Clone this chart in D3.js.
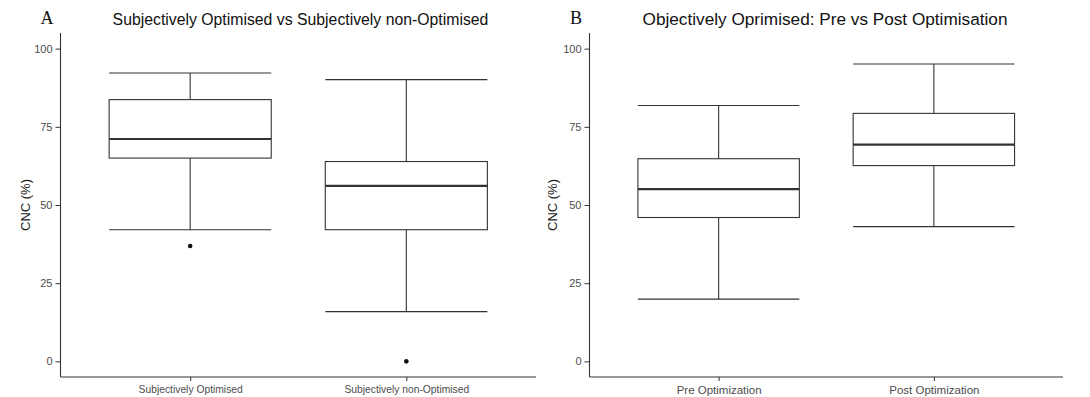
<!DOCTYPE html>
<html><head><meta charset="utf-8">
<script src="https://cdn.jsdelivr.net/npm/d3@7"></script>
<style>body{margin:0;background:#fff;} svg{display:block;}</style>
</head><body>
<svg id="chart" width="1090" height="397"></svg>
<script>
// Panel A
const catsA = ["Subjectively Optimised", "Subjectively non-Optimised"];
const lowA = [42.1, 15.9];
const q1A = [65.0, 42.1];
const medA = [71.1, 56.1];
const q3A = [83.7, 63.9];
const highA = [92.2, 90.1];
const outA = [[36.9], [0]];
// Panel B
const catsB = ["Pre Optimization", "Post Optimization"];
const lowB = [19.9, 43.1];
const q1B = [46.0, 62.6];
const medB = [55.1, 69.3];
const q3B = [64.8, 79.3];
const highB = [81.8, 95.1];
const outB = [[], []];
const yTicks = [0, 25, 50, 75, 100];

const svg = d3.select("#chart");
const stroke = "#333333";

function panel(opt) {
  const {x0, x1, y0, y1, cats, low, q1, med, q3, high, outs, title, titleSize, letter, letterX, titleX, xFont, yTitleX} = opt;
  const g = svg.append("g");
  // emulate ggplot discrete expansion: 0.6 units each side
  const unit = (x1 - x0) / (cats.length - 1 + 1.2);
  const cx = i => x0 + unit * (0.6 + i);
  const xPos = d3.scalePoint().domain(cats).range([cx(0), cx(cats.length - 1)]);
  const y = d3.scaleLinear().domain([-5, 105]).range([y1, y0]);
  const bw = unit * 0.75;

  const yAxis = d3.axisLeft(y).tickValues(yTicks).tickSize(5).tickPadding(3);
  const ya = g.append("g").attr("transform", `translate(${x0},0)`).call(yAxis);
  ya.select(".domain").remove();
  ya.selectAll(".tick line").attr("stroke", stroke).attr("stroke-width", 1);
  ya.selectAll(".tick text").attr("fill", "#4d4d4d").style("font-family", "Liberation Sans, Arial, sans-serif").style("font-size", "11px");

  const xAxis = d3.axisBottom(xPos).tickSize(4).tickPadding(5);
  const xa = g.append("g").attr("transform", `translate(0,${y1})`).call(xAxis);
  xa.select(".domain").remove();
  xa.selectAll(".tick line").attr("stroke", stroke).attr("stroke-width", 1);
  xa.selectAll(".tick text").attr("fill", "#4d4d4d").style("font-family", "Liberation Sans, Arial, sans-serif").style("font-size", xFont + "px");

  g.append("line").attr("x1", x0).attr("x2", x0).attr("y1", y0).attr("y2", y1).attr("stroke", stroke).attr("stroke-width", 1.1);
  g.append("line").attr("x1", x0).attr("x2", x1).attr("y1", y1).attr("y2", y1).attr("stroke", stroke).attr("stroke-width", 1.1);

  cats.forEach((c, i) => {
    const c0 = xPos(c);
    const bg = g.append("g").attr("stroke", stroke).attr("fill", "none").attr("stroke-width", 1.1);
    bg.append("line").attr("x1", c0).attr("x2", c0).attr("y1", y(high[i])).attr("y2", y(q3[i]));
    bg.append("line").attr("x1", c0).attr("x2", c0).attr("y1", y(q1[i])).attr("y2", y(low[i]));
    bg.append("line").attr("x1", c0 - bw/2).attr("x2", c0 + bw/2).attr("y1", y(high[i])).attr("y2", y(high[i]));
    bg.append("line").attr("x1", c0 - bw/2).attr("x2", c0 + bw/2).attr("y1", y(low[i])).attr("y2", y(low[i]));
    bg.append("rect").attr("x", c0 - bw/2).attr("width", bw).attr("y", y(q3[i])).attr("height", y(q1[i]) - y(q3[i])).attr("fill", "#fff");
    bg.append("line").attr("x1", c0 - bw/2).attr("x2", c0 + bw/2).attr("y1", y(med[i])).attr("y2", y(med[i])).attr("stroke-width", 2.2);
    outs[i].forEach(v => {
      g.append("circle").attr("cx", c0).attr("cy", y(v)).attr("r", 2.3).attr("fill", "#111");
    });
  });

  g.append("text").attr("transform", `translate(${yTitleX},${(y0 + y1) / 2}) rotate(-90)`)
    .attr("text-anchor", "middle").attr("fill", "#1a1a1a")
    .style("font-family", "Liberation Sans, Arial, sans-serif").style("font-size", "13px").text("CNC (%)");
  g.append("text").attr("x", titleX).attr("y", 25).attr("text-anchor", "middle").attr("fill", "#111")
    .style("font-family", "Liberation Sans, Arial, sans-serif").style("font-size", titleSize + "px").text(title);
  g.append("text").attr("x", letterX).attr("y", 24).attr("text-anchor", "middle").attr("fill", "#111")
    .style("font-family", "Liberation Serif, Times New Roman, serif").style("font-size", "18px").text(letter);
}

panel({x0: 60.5, x1: 536, y0: 33, y1: 377, cats: catsA, low: lowA, q1: q1A, med: medA, q3: q3A, high: highA, outs: outA,
  title: "Subjectively Optimised vs Subjectively non-Optimised", titleSize: 15.8, letter: "A", letterX: 47, titleX: 300.5, xFont: 10.3, yTitleX: 30});
panel({x0: 589.5, x1: 1063, y0: 33, y1: 377, cats: catsB, low: lowB, q1: q1B, med: medB, q3: q3B, high: highB, outs: outB,
  title: "Objectively Oprimised: Pre vs Post Optimisation", titleSize: 17.2, letter: "B", letterX: 576, titleX: 825, xFont: 11.5, yTitleX: 557});
</script>
</body></html>
